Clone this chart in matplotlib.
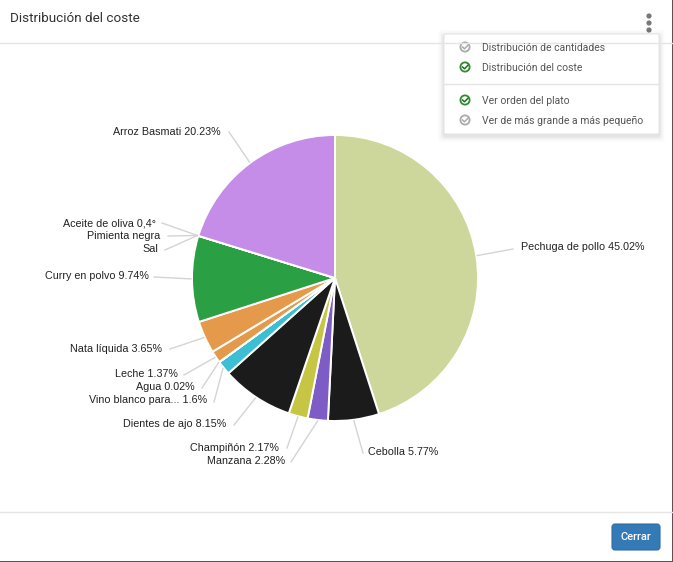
import numpy as np
import matplotlib
matplotlib.use("Agg")
import matplotlib.pyplot as plt
from matplotlib.patches import Circle, FancyBboxPatch, Rectangle

# --- Data (clockwise from the top) ---
names = ["Pechuga de pollo 45.02%", "Cebolla 5.77%", "Manzana 2.28%", "Champiñón 2.17%",
         "Dientes de ajo 8.15%", "Vino blanco para... 1.6%", "Agua 0.02%", "Leche 1.37%",
         "Nata líquida 3.65%", "Curry en polvo 9.74%", "Sal", "Pimienta negra",
         "Aceite de oliva 0,4°", "Arroz Basmati 20.23%"]
values = [45.02, 5.77, 2.28, 2.17, 8.15, 1.6, 0.02, 1.37, 3.65, 9.74, 0.0, 0.0, 0.0, 20.23]
colors = ["#cdd79b", "#1b1b1b", "#7e5cc6", "#c7c544", "#1b1b1b", "#3cbfd4", "#e59a4b", "#e59a4b",
          "#e59a4b", "#2b9f43", "#2b9f43", "#2b9f43", "#2b9f43", "#c58ce8"]
menu_items = ["Distribución de cantidades", "Distribución del coste",
              "Ver orden del plato", "Ver de más grande a más pequeño"]
menu_active = [False, True, True, False]

# --- Layout in image pixels ---
W, H = 673, 562
cx, cy, radius = 335, 278, 143
label_xy = [(521, 247), (368, 452), (285, 461), (279, 448), (226, 424), (207, 400), (195, 387),
            (178, 374), (162, 349), (149, 276), (158, 249), (160, 236), (156, 223), (221, 132)]
leader_end = [(513, 249), (363, 453), (291, 462), (287, 448), (234, 425), (214, 402), (202, 388),
              (184, 375), (170, 349), (154, 277), (165, 250), (168, 236), (162, 223), (229, 132)]
menu_y = [47, 67, 100, 120]

plt.rcParams["font.family"] = ["Liberation Sans", "DejaVu Sans"]
fig = plt.figure(figsize=(W / 100, H / 100), dpi=100, facecolor="white")

# --- Pie: axes units are pixels, centred on the pie ---
ax_pie = fig.add_axes([0, 0, 1, 1])
ax_pie.pie(values, colors=colors, startangle=90, counterclock=False, radius=radius,
           wedgeprops={"edgecolor": "white", "linewidth": 1.4})
ax_pie.set_aspect("auto")
ax_pie.set_xlim(-cx, W - cx)
ax_pie.set_ylim(-(H - cy), cy)
ax_pie.axis("off")

# --- Everything else is drawn in image pixels ---
ax = fig.add_axes([0, 0, 1, 1], facecolor="none")
ax.set_xlim(0, W)
ax.set_ylim(H, 0)
ax.axis("off")

# leader lines start on the pie edge at each slice's middle angle, then labels
mids = (np.cumsum(values) - np.array(values) / 2) / 100 * 2 * np.pi
for i, name in enumerate(names):
    sx = cx + (radius + 1) * np.sin(mids[i])
    sy = cy - (radius + 1) * np.cos(mids[i])
    ax.plot([sx, leader_end[i][0]], [sy, leader_end[i][1]], color="#d4d4d4", lw=1)
    ha = "left" if i < 2 else "right"
    ax.text(label_xy[i][0], label_xy[i][1], name, ha=ha, va="center", fontsize=7.72, color="#222222")

# header and footer
ax.text(10, 19, "Distribución del coste", family="Roboto", fontsize=9.7, color="#333333", va="center")
ax.plot([0, W], [43, 43], color="#e5e5e5", lw=1)
ax.plot([0, W], [512, 512], color="#e5e5e5", lw=1)
for y in [16, 23, 30]:
    ax.add_patch(Circle((649, y), 2.6, color="#777777", lw=0))

# popup menu with a soft shadow
for grow, alpha in [(6, 0.012), (4.5, 0.02), (3, 0.03), (1.5, 0.04)]:
    ax.add_patch(FancyBboxPatch((444 - grow, 34 - grow + 2), 215 + 2 * grow, 100 + 2 * grow,
                                boxstyle="round,pad=0,rounding_size=3", fc="black", ec="none", alpha=alpha))
ax.add_patch(FancyBboxPatch((444, 34), 215, 100, boxstyle="round,pad=0,rounding_size=2",
                            fc="white", ec="#e2e2e2", lw=0.6))
ax.plot([444, 659], [84, 84], color="#e5e5e5", lw=1)
for label, y, active in zip(menu_items, menu_y, menu_active):
    col = "#2e8b2e" if active else "#aaaaaa"
    ax.add_patch(Circle((465, y), 4.6, fc="white", ec=col, lw=1.3))
    ax.plot([462.5, 464.5, 467.8], [y, y + 1.8, y - 1.6], color="#1f6f1f" if active else "#aaaaaa", lw=1.1)
    ax.text(482.5, y + 0.7, label, family="Roboto", fontsize=7.5, color="#555555", va="center")

# close button
ax.add_patch(FancyBboxPatch((612, 524), 48, 26, boxstyle="round,pad=0,rounding_size=3",
                            fc="#337ab7", ec="#2e6da4", lw=0.8))
ax.text(636, 536.5, "Cerrar", family="Roboto", fontsize=8, fontweight="medium", color="white",
        ha="center", va="center")

# dark window edge on the right and at the bottom
ax.add_patch(Rectangle((671.8, 0), 1.2, H, fc="#555555", ec="none"))
ax.add_patch(Rectangle((0, 561), W, 1, fc="#555555", ec="none"))

fig.savefig("out.png", dpi=100)
